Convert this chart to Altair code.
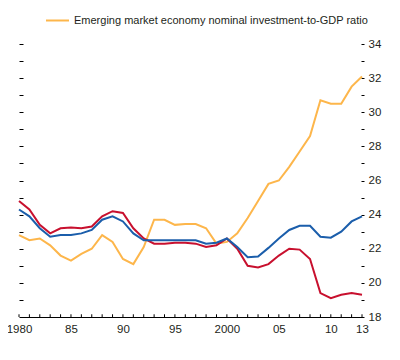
import altair as alt
import pandas as pd

years = list(range(1980, 2014))
emerging = [22.8, 22.5, 22.6, 22.2, 21.6, 21.3, 21.7, 22.0, 22.8, 22.4,
            21.4, 21.1, 22.1, 23.7, 23.7, 23.4, 23.45, 23.45, 23.2, 22.3,
            22.4, 22.9, 23.8, 24.8, 25.8, 26.0, 26.8, 27.7, 28.6, 30.7,
            30.5, 30.5, 31.5, 32.1]
world = [24.3, 23.9, 23.2, 22.7, 22.8, 22.8, 22.9, 23.1, 23.7, 23.9,
         23.6, 22.9, 22.5, 22.5, 22.5, 22.5, 22.5, 22.5, 22.3, 22.35,
         22.6, 22.1, 21.5, 21.55, 22.05, 22.6, 23.1, 23.35, 23.35, 22.7,
         22.65, 23.0, 23.6, 23.9]
advanced = [24.8, 24.3, 23.4, 22.9, 23.2, 23.25, 23.2, 23.3, 23.9, 24.2,
            24.1, 23.2, 22.6, 22.3, 22.3, 22.35, 22.35, 22.3, 22.1, 22.2,
            22.6, 22.0, 21.0, 20.9, 21.1, 21.6, 22.0, 21.95, 21.4, 19.4,
            19.1, 19.3, 19.4, 19.3]

series_names = [
    "Emerging market economy nominal investment-to-GDP ratio",
    "Advanced economy nominal investment-to-GDP ratio",
    "World nominal investment-to-GDP ratio",
]
series_colors = ["#FDB64B", "#C8102E", "#1B5EAB"]

x_tick_values = [1980, 1985, 1990, 1995, 2000, 2005, 2010, 2013]
x_tick_labels = ["1980", "85", "90", "95", "2000", "05", "10", "13"]
y_ticks = list(range(18, 35))

FONT = "Liberation Sans"
TEXT = "#231F20"

rows = []
for name, vals in zip(series_names, [emerging, advanced, world]):
    for y, v in zip(years, vals):
        rows.append({"year": y, "value": v, "series": name})
df = pd.DataFrame(rows)

label_expr = "''"
for v, l in reversed(list(zip(x_tick_values, x_tick_labels))):
    label_expr = f"datum.value == {v} ? '{l}' : ({label_expr})"

xscale = alt.Scale(domain=[1980, 2013], nice=False, zero=False)
yscale = alt.Scale(domain=[18, 34], nice=False, zero=False)
xaxis = alt.Axis(values=x_tick_values, labelExpr=label_expr, title=None,
                 tickSize=0, domain=True, domainColor="#000000",
                 domainWidth=1, grid=False, labelPadding=6,
                 labelFlush=False, labelOverlap=False)

lines = alt.Chart(df).mark_line(strokeWidth=2).encode(
    x=alt.X("year:Q", scale=xscale, axis=xaxis),
    y=alt.Y("value:Q", scale=yscale,
            axis=alt.Axis(orient="right", values=y_ticks,
                          labelExpr="datum.value % 2 == 0 ? datum.label : ''",
                          tickSize=3, offset=-1, domain=False, grid=False,
                          title=None, labelPadding=4, labelOverlap=False)),
    color=alt.Color("series:N",
                    scale=alt.Scale(domain=series_names, range=series_colors),
                    legend=alt.Legend(values=[series_names[0]], orient="none",
                                      legendX=26, legendY=-36, title=None,
                                      symbolType="stroke", symbolSize=529,
                                      symbolStrokeWidth=2, labelOffset=4,
                                      labelLimit=400)),
)

xt = pd.DataFrame({"year": years, "lo": [18.0] * len(years), "hi": [18.16] * len(years)})
ticks = alt.Chart(xt).mark_rule(color="#000000", strokeWidth=1).encode(
    x=alt.X("year:Q", scale=xscale, axis=xaxis),
    y=alt.Y("lo:Q", scale=yscale,
            axis=alt.Axis(orient="left", values=y_ticks[1:], labels=False,
                          domain=False, tickSize=4, offset=-4, grid=False,
                          title=None)),
    y2="hi:Q",
)

chart = (
    alt.layer(lines, ticks)
    .resolve_axis(y="independent")
    .properties(width=343, height=273,
                autosize=alt.AutoSizeParams(type="none"),
                padding={"left": 11, "top": 36, "right": 28, "bottom": 30})
    .configure_view(stroke=None)
    .configure_axis(labelFont=FONT, labelFontSize=11.5, labelColor=TEXT,
                    tickColor="#000000", tickWidth=1)
    .configure_legend(labelFont=FONT, labelFontSize=11, labelColor=TEXT,
                      padding=0)
)

chart.save("out.html", embed_options={"renderer": "svg", "actions": False})
